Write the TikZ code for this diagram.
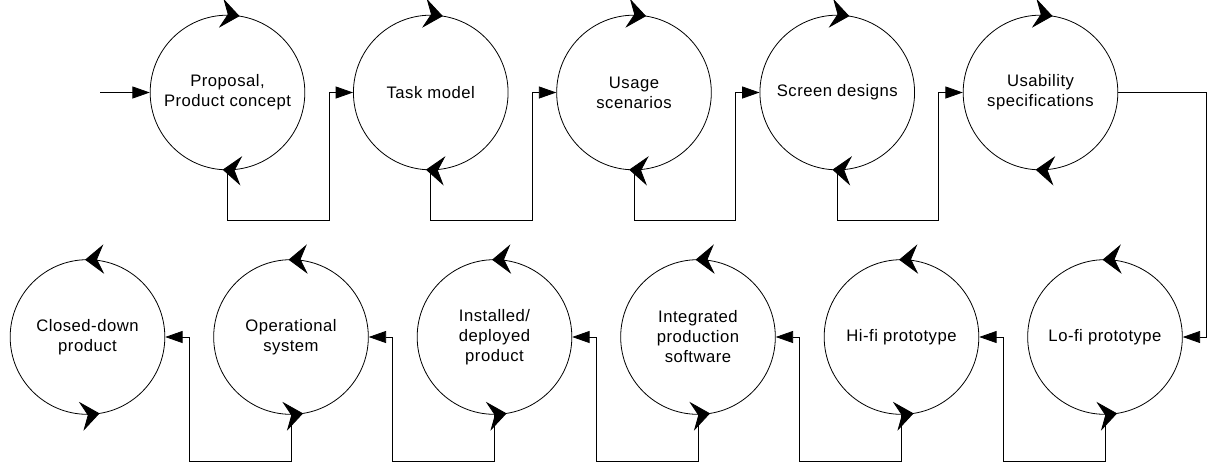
\documentclass[tikz,border=0pt]{standalone}
\usepackage{fontspec}
\setmainfont{Liberation Sans}[LetterSpace=3]
\usetikzlibrary{arrows.meta,decorations.markings}

\begin{document}
\begin{tikzpicture}[
    x=0.75pt, y=-0.75pt,
    % Punta cóncava para el sentido de giro sobre cada círculo
    giro/.tip={Stealth[length=14pt, width=22pt, inset=5pt]},
    etapa/.style={circle, draw=black, line width=0.6pt, inner sep=0pt, minimum size=116pt,
        align=center, font=\fontsize{12.5}{15}\selectfont},
    % Fila superior: giro en sentido horario
    horario/.style={etapa, postaction={decorate, decoration={markings,
        mark=at position 0.225 with {\arrowreversed{giro}},
        mark=at position 0.74 with {\arrowreversed{giro}}}}},
    % Fila inferior: giro en sentido antihorario
    antihorario/.style={etapa, postaction={decorate, decoration={markings,
        mark=at position 0.255 with {\arrow{giro}},
        mark=at position 0.775 with {\arrow{giro}}}}},
    enlace/.style={-{Triangle[length=13pt, width=9pt]}, line width=0.6pt}
]
    \useasboundingbox (0,0) rectangle (1210,465);

    % --- FILA SUPERIOR ---
    \node[horario] (proposal) at (227.5,92.5)  {Proposal,\\Product concept};
    \node[horario] (task)     at (430.75,92.5) {Task model};
    \node[horario] (usage)    at (634,92.5)    {Usage\\scenarios};
    \node[horario] (screen)   at (837.25,92.5) {Screen designs};
    \node[horario] (usab)     at (1040.5,92.5) {Usability\\specifications};

    % --- FILA INFERIOR ---
    \node[antihorario] (lofi)   at (1105,337)  {Lo-fi prototype};
    \node[antihorario] (hifi)   at (901.5,337) {Hi-fi prototype};
    \node[antihorario] (integ)  at (698,337)   {Integrated\\production\\software};
    \node[antihorario] (inst)   at (494.5,337) {Installed/\\deployed\\product};
    \node[antihorario] (oper)   at (291,337)   {Operational\\system};
    \node[antihorario] (closed) at (87.5,337)  {Closed-down\\product};

    % --- CONEXIONES ---
    \coordinate (entrada) at (100,92.5);
    \draw[enlace] (entrada) -- (proposal.west);

    \draw[enlace] (proposal.south) -- ++(0,50) -| ([xshift=-18pt]task.west) -- (task.west);
    \draw[enlace] (task.south) -- ++(0,50) -| ([xshift=-18pt]usage.west) -- (usage.west);
    \draw[enlace] (usage.south) -- ++(0,50) -| ([xshift=-18pt]screen.west) -- (screen.west);
    \draw[enlace] (screen.south) -- ++(0,50) -| ([xshift=-18pt]usab.west) -- (usab.west);

    \draw[enlace] (usab.east) -- ++(88,0) |- (lofi.east);

    \draw[enlace] (lofi.south) -- ++(0,47) -| ([xshift=18pt]hifi.east) -- (hifi.east);
    \draw[enlace] (hifi.south) -- ++(0,47) -| ([xshift=18pt]integ.east) -- (integ.east);
    \draw[enlace] (integ.south) -- ++(0,47) -| ([xshift=18pt]inst.east) -- (inst.east);
    \draw[enlace] (inst.south) -- ++(0,47) -| ([xshift=18pt]oper.east) -- (oper.east);
    \draw[enlace] (oper.south) -- ++(0,47) -| ([xshift=18pt]closed.east) -- (closed.east);

\end{tikzpicture}
\end{document}
